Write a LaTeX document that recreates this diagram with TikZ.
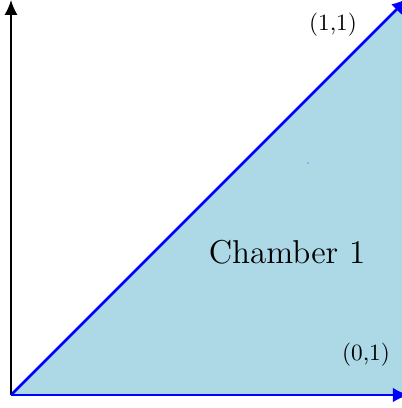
\documentclass[tikz,border=0pt]{standalone}
\usepackage{tikz}
\usetikzlibrary{calc,arrows.meta}
\definecolor{chamberblue}{RGB}{173,216,230}

\begin{document}
\begin{tikzpicture}[
        scale=1.51, % 调整比例
        bound/.style={blue, very thick, -{Latex[length=7pt,width=6.4pt]}},
    ]
    \useasboundingbox (-0.11,-0.13) rectangle (3.91,3.95);
    \clip (-0.11,-0.13) rectangle (3.91,3.95);
    % 定义坐标
    \coordinate (O) at (0,0);
    \coordinate (X) at (3.98,0);
    \coordinate (D) at (3.97,3.97);
    \coordinate (Y) at (0,3.95);
    % 填充区域
    \fill[chamberblue] (O) -- (4.2,0) -- (4.2,4.2) -- cycle;
    \fill[blue!40] (2.97,2.32) circle (0.35pt);
    % 坐标轴
    \draw[thick,-{Latex[length=6.4pt,width=5.6pt]}] (O) -- (Y);
    \draw[bound] (O) -- (X);
    \draw[bound] (O) -- (D);
    % 标注
    \node (p11) at (3.22,3.70) {(1,1)};
    \node (p01) at (3.55,0.40) {(0,1)};
    \node (ch) at (2.76,1.43) {\fontsize{14.2}{17}\selectfont Chamber 1};
\end{tikzpicture}
\end{document}
